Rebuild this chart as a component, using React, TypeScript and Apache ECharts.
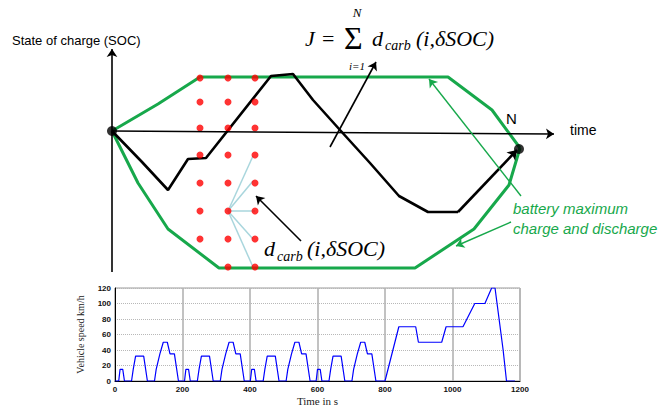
import React, { useEffect, useRef } from "react";
import * as echarts from "echarts";

// ---- Top diagram (diagram units: horizontal / vertical position on the sketch) ----
const upperBoundX = [112, 158, 200, 448, 492, 520];
const upperBoundY = [131, 104, 77, 77, 110, 148];
const lowerBoundX = [112, 138, 168, 219, 415, 474, 509, 520];
const lowerBoundY = [131, 183, 229, 268, 268, 229, 185, 148];
const socPathX = [112, 142, 168, 188, 206, 271, 293, 313, 340, 370, 399, 428, 458];
const socPathY = [131, 162, 190, 159, 158, 76, 74, 100, 130, 163, 196, 212, 212];
const socLastStepX = [458, 517];
const socLastStepY = [212, 150];
const gridDots: [number, number][] = [
  [200, 78], [200, 102], [200, 128], [200, 155], [200, 183], [200, 211], [200, 239],
  [228, 78], [228, 102], [228, 128], [228, 155], [228, 183], [228, 211], [228, 239], [228, 267],
  [255, 78], [255, 102], [255, 128], [255, 155], [255, 183], [255, 211], [255, 239], [255, 267],
];
const fanCenter: [number, number] = [228, 211];
const fanTargets: [number, number][] = [[253, 156], [253, 181], [255, 211], [253, 239], [253, 267]];
const endPoints: [number, number][] = [[112, 131], [519, 149]];
const blackArrows: [number, number][][] = [
  [[112, 272], [112, 49]],
  [[112, 131], [554, 134]],
  [[330, 147], [376, 62]],
  [[301, 241], [256, 196]],
];
const greenArrows: [number, number][][] = [
  [[521, 196], [429, 79]],
  [[511, 222], [456, 246]],
];

// ---- Bottom chart: vehicle speed (NEDC) ----
const speedTime = [
  0, 11, 15, 23, 28, 49, 54, 56, 61, 85, 96, 117, 122, 124, 133, 135, 143, 155, 163, 176, 188, 195,
  206, 210, 218, 223, 244, 249, 251, 256, 280, 291, 312, 317, 319, 328, 330, 338, 350, 358, 371, 383, 390,
  401, 405, 413, 418, 439, 444, 446, 451, 475, 486, 507, 512, 514, 523, 525, 533, 545, 553, 566, 578, 585,
  596, 600, 608, 613, 634, 639, 641, 646, 670, 681, 702, 707, 709, 718, 720, 728, 740, 748, 761, 773, 780,
  800, 841, 891, 899, 968, 981, 1031, 1066, 1096, 1116, 1126, 1135, 1150, 1160, 1185,
];
const speedKmh = [
  0, 0, 15, 15, 0, 0, 15, 15, 32, 32, 0, 0, 15, 15, 35, 35, 50, 50, 35, 35, 0, 0,
  0, 15, 15, 0, 0, 15, 15, 32, 32, 0, 0, 15, 15, 35, 35, 50, 50, 35, 35, 0, 0,
  0, 15, 15, 0, 0, 15, 15, 32, 32, 0, 0, 15, 15, 35, 35, 50, 50, 35, 35, 0, 0,
  0, 15, 15, 0, 0, 15, 15, 32, 32, 0, 0, 15, 15, 35, 35, 50, 50, 35, 35, 0, 0,
  0, 70, 70, 50, 50, 70, 70, 100, 100, 120, 120, 90, 40, 0, 0,
];
const speedTicksX = [0, 200, 400, 600, 800, 1000, 1200];
const speedTicksY = [0, 20, 40, 60, 80, 100, 120];

const GREEN = "#17a84b";
const zip = (xs: number[], ys: number[]) => xs.map((x, i) => [x, ys[i]]);

export default function App() {
  const ref = useRef<HTMLDivElement>(null);
  useEffect(() => {
    if (!ref.current) return;
    const chart = echarts.init(ref.current, null, { renderer: "svg" });
    const serif = '"Liberation Serif", "Times New Roman", serif';
    const sans = '"Liberation Sans", Arial, sans-serif';
    const text = (t: string, x: number, y: number, font: string, fill = "#000", align = "left") => ({
      type: "text",
      x,
      y,
      z: 100,
      style: { text: t, font, fill, align, verticalAlign: "middle" },
    });
    const option: any = {
      animation: false,
      backgroundColor: "#fff",
      grid: [
        { left: 0, top: 0, width: 670, height: 280, show: false },
        {
          left: 115, top: 288, width: 405, height: 95, show: true,
          borderColor: "#9a9a9a", borderWidth: 1,
        },
      ],
      xAxis: [
        { gridIndex: 0, type: "value", min: 0, max: 670, show: false },
        {
          gridIndex: 1, type: "value", min: 0, max: 1200, interval: 200,
          axisLine: { show: true, onZero: false, lineStyle: { color: "#000", width: 1 } },
          axisTick: { show: false },
          axisLabel: {
            fontSize: 8, fontWeight: "bold", color: "#111", margin: 4, fontFamily: sans,
            formatter: (v: number) => (speedTicksX.includes(v) ? String(v) : ""),
          },
          splitLine: { show: true, lineStyle: { color: "#b3b3b3", width: 1.6 } },
          name: "Time in s", nameLocation: "middle", nameGap: 14,
          nameTextStyle: { fontFamily: serif, fontSize: 11, color: "#222" },
        },
      ],
      yAxis: [
        { gridIndex: 0, type: "value", min: 0, max: 280, inverse: true, show: false },
        {
          gridIndex: 1, type: "value", min: 0, max: 120, interval: 20,
          axisLine: { show: true, onZero: false, lineStyle: { color: "#000", width: 1 } },
          axisTick: { show: false },
          axisLabel: {
            fontSize: 8, fontWeight: "bold", color: "#111", margin: 4, fontFamily: sans,
            formatter: (v: number) => (speedTicksY.includes(v) ? String(v) : ""),
          },
          splitLine: { show: true, lineStyle: { color: "#b8b8b8", width: 1, type: "dotted" } },
          name: "Vehicle speed km/h", nameLocation: "middle", nameGap: 30, nameRotate: 90,
          nameTextStyle: { fontFamily: serif, fontSize: 10, color: "#222" },
        },
      ],
      series: [
        {
          type: "line", xAxisIndex: 0, yAxisIndex: 0, showSymbol: false, z: 3,
          data: zip(upperBoundX, upperBoundY), lineStyle: { color: GREEN, width: 3 },
        },
        {
          type: "line", xAxisIndex: 0, yAxisIndex: 0, showSymbol: false, z: 3,
          data: zip(lowerBoundX, lowerBoundY), lineStyle: { color: GREEN, width: 3 },
        },
        {
          type: "lines", coordinateSystem: "cartesian2d", xAxisIndex: 0, yAxisIndex: 0, z: 2,
          data: fanTargets.map((t) => ({ coords: [fanCenter, t] })),
          lineStyle: { color: "#a9d6dd", width: 1.5, opacity: 1 },
        },
        {
          type: "line", xAxisIndex: 0, yAxisIndex: 0, showSymbol: false, z: 4,
          data: zip(socPathX, socPathY), lineStyle: { color: "#000", width: 2.6 },
        },
        {
          type: "lines", coordinateSystem: "cartesian2d", xAxisIndex: 0, yAxisIndex: 0, z: 4,
          symbol: ["none", "arrow"], symbolSize: 9,
          data: [{ coords: zip(socLastStepX, socLastStepY) }],
          lineStyle: { color: "#000", width: 2.6, opacity: 1 },
        },
        {
          type: "scatter", xAxisIndex: 0, yAxisIndex: 0, z: 5,
          data: gridDots, symbolSize: 7, itemStyle: { color: "#ff0000" },
        },
        {
          type: "scatter", xAxisIndex: 0, yAxisIndex: 0, z: 6,
          data: endPoints, symbolSize: 10, itemStyle: { color: "#000" },
        },
        {
          type: "lines", coordinateSystem: "cartesian2d", xAxisIndex: 0, yAxisIndex: 0, z: 6,
          symbol: ["none", "arrow"], symbolSize: 8,
          data: blackArrows.map((c) => ({ coords: c })),
          lineStyle: { color: "#000", width: 1.6, opacity: 1 },
        },
        {
          type: "lines", coordinateSystem: "cartesian2d", xAxisIndex: 0, yAxisIndex: 0, z: 6,
          symbol: ["none", "arrow"], symbolSize: 8,
          data: greenArrows.map((c) => ({ coords: c })),
          lineStyle: { color: GREEN, width: 1.4, opacity: 1 },
        },
        {
          type: "line", xAxisIndex: 1, yAxisIndex: 1, showSymbol: false, z: 5,
          data: zip(speedTime, speedKmh), lineStyle: { color: "#0000ff", width: 1.2 },
        },
      ],
      graphic: [
        text("State of charge (SOC)", 12, 40, `13px ${sans}`),
        text("time", 570, 130, `14px ${sans}`),
        text("N", 506, 118, `15px ${sans}`),
        text("battery maximum", 513, 208, `italic 15px ${sans}`, GREEN),
        text("charge and discharge", 513, 228, `italic 15px ${sans}`, GREEN),
        text("J", 305, 38, `italic 22px ${serif}`),
        text("=", 322, 38, `22px ${serif}`),
        text("Σ", 344, 38, `32px ${serif}`),
        text("N", 357, 12, `italic 13px ${serif}`, "#000", "center"),
        text("i=1", 357, 66, `italic 11px ${serif}`, "#000", "center"),
        text("d", 372, 38, `italic 22px ${serif}`),
        text("carb", 385, 45, `italic 14px ${serif}`),
        text("(i,δSOC)", 416, 38, `italic 22px ${serif}`),
        text("d", 264, 248, `italic 22px ${serif}`),
        text("carb", 277, 256, `italic 14px ${serif}`),
        text("(i,δSOC)", 307, 248, `italic 22px ${serif}`),
      ],
    };
    chart.setOption(option);
    return () => chart.dispose();
  }, []);
  return (
    <div
      ref={ref}
      style={{ position: "absolute", left: 0, top: 0, width: 670, height: 407, background: "#fff" }}
    />
  );
}
